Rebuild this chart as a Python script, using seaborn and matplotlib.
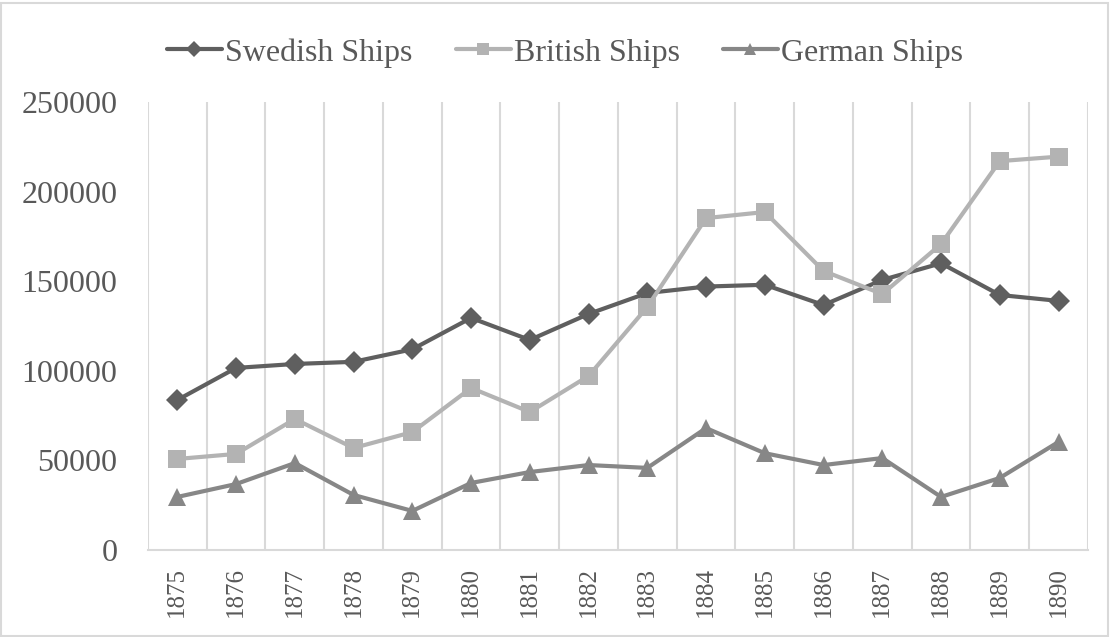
import matplotlib
matplotlib.use("Agg")
import matplotlib.pyplot as plt
import seaborn as sns
import pandas as pd
from matplotlib.patches import Rectangle

years = [1875, 1876, 1877, 1878, 1879, 1880, 1881, 1882,
         1883, 1884, 1885, 1886, 1887, 1888, 1889, 1890]
swedish = [83700, 101600, 103800, 105000, 112000, 129500, 117200, 131700,
           143400, 147000, 148000, 136700, 150700, 160000, 142300, 139000]
british = [50800, 53600, 73100, 56900, 65800, 90400, 77000, 97100,
           135600, 185200, 188600, 155700, 142800, 170700, 217000, 219500]
german = [29600, 36800, 48500, 30700, 21800, 37400, 43500, 47400,
          45800, 68000, 54000, 47400, 51300, 29600, 40200, 60300]

series_names = ["Swedish Ships", "British Ships", "German Ships"]
y_ticks = [0, 50000, 100000, 150000, 200000, 250000]

sns.set_theme(style="white")
plt.rcParams["font.family"] = ["Liberation Serif", "DejaVu Serif"]

rows = []
for name, vals in zip(series_names, [swedish, british, german]):
    for i, (yr, v) in enumerate(zip(years, vals)):
        rows.append({"pos": i, "year": yr, "ships": v, "series": name})
df = pd.DataFrame(rows)

text_color = "#595959"
palette = {"Swedish Ships": "#5f5f5f", "British Ships": "#b3b3b3", "German Ships": "#878787"}
markers = {"Swedish Ships": "D", "British Ships": "s", "German Ships": "^"}
msizes = {"Swedish Ships": 11, "British Ships": 12.5, "German Ships": 12.5}
leg_msizes = {"Swedish Ships": 8, "British Ships": 9, "German Ships": 9}

fig = plt.figure(figsize=(11.10, 6.37), dpi=100)
ax = fig.add_axes([0.1333, 0.1366, 0.8468, 0.7033])

for name in series_names:
    sub = df[df["series"] == name]
    sns.lineplot(data=sub, x="pos", y="ships", ax=ax, color=palette[name],
                 marker=markers[name], markersize=msizes[name], markeredgewidth=0,
                 linewidth=3, label=name, sort=False)

ax.set_xlim(-0.5, len(years) - 0.5)
ax.set_ylim(0, 250000)
ax.set_yticks(y_ticks)
ax.set_yticklabels([str(t) for t in y_ticks], fontsize=23, color=text_color)
ax.set_xticks(range(len(years)))
ax.set_xticklabels([str(y) for y in years], rotation=90, fontsize=18, color=text_color)
ax.set_xticks([i - 0.5 for i in range(len(years) + 1)], minor=True)
ax.grid(True, which="minor", axis="x", color="#d9d9d9", linewidth=1.5)
ax.grid(False, which="major")
ax.tick_params(axis="both", which="both", length=0)
ax.tick_params(axis="y", pad=22)
ax.tick_params(axis="x", pad=12)
for side in ["top", "right", "left"]:
    ax.spines[side].set_visible(False)
ax.spines["bottom"].set_color("#d9d9d9")
ax.spines["bottom"].set_linewidth(1.5)
ax.set_xlabel("")
ax.set_ylabel("")

leg = ax.legend(loc="center", bbox_to_anchor=(0.509, 0.917), bbox_transform=fig.transFigure,
                ncol=3, frameon=False, fontsize=23, handlelength=1.72, handletextpad=0.1,
                columnspacing=1.35, labelcolor=text_color)
for handle, name in zip(leg.legend_handles, series_names):
    handle.set_markersize(leg_msizes[name])

fig.patches.append(Rectangle((0.001, 0.001), 0.997, 0.995, transform=fig.transFigure,
                             fill=False, edgecolor="#d9d9d9", linewidth=1.5))

fig.savefig("out.png", dpi=100)
